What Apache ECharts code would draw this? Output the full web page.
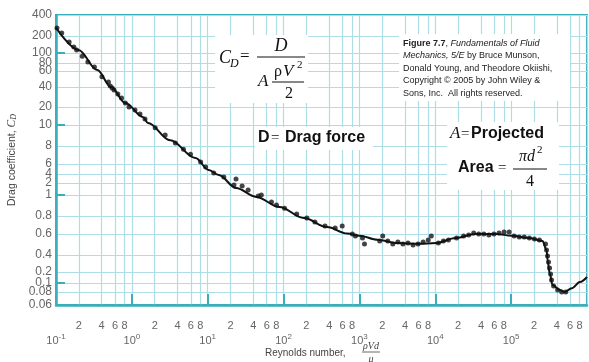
<!DOCTYPE html>
<html>
<head>
<meta charset="utf-8">
<script src="https://cdn.jsdelivr.net/npm/echarts@6/dist/echarts.min.js"></script>
<style>
  html, body { margin: 0; background: #fff; }
  #dragChart { width: 589px; height: 362px; }
</style>
</head>
<body>
<div id="dragChart"></div>
<script>
// drag coefficient of a sphere vs Reynolds number (log-log, stretched Cd axis)

// y axis: the printed labels are not evenly spaced, so each label gets its own spot
const yTickVals = [0.06, 0.08, 0.1, 0.2, 0.4, 0.6, 0.8, 1, 2, 4, 6, 8, 10, 20, 40, 60, 80, 100, 200, 400];
const yTickLabels = ['0.06', '0.08', '0.1', '0.2', '0.4', '0.6', '0.8', '1', '2', '4', '6', '8', '10', '20', '40', '60', '80', '100', '200', '400'];
const yTickAt = [0, 13, 22, 33, 50, 71, 89, 110, 122, 131, 141, 159, 180, 198, 218, 234, 242, 252, 269, 290];
const yMajor = [0.1, 1, 10, 100];

// x axis: decades 10^-1 .. 10^6, labelled 2 4 6 8 in between
const xDecades = [-1, 0, 1, 2, 3, 4, 5, 6];
const xMinor = [2, 4, 6, 8];

// fitted curve
const curveRe = [0.1, 0.198, 0.35, 0.53, 0.82, 1.4, 1.63, 3.2, 6.9, 10.3, 14, 23.6, 43.7, 88, 185, 374, 692, 1000,
  1738, 3210, 5930, 10300, 18500, 34100, 63100, 103000, 174000, 259000, 293000, 302000, 321000, 352000,
  437000, 509000, 631000, 807000, 1000000];
const curveCd = [265, 113, 62, 40, 23, 13.6, 10.8, 8.5, 6.6, 4.7, 3.7, 1.5, 0.98, 0.88, 0.774, 0.67, 0.605, 0.58,
  0.536, 0.504, 0.496, 0.504, 0.555, 0.6, 0.6, 0.58, 0.555, 0.524, 0.44, 0.326, 0.188, 0.095,
  0.084, 0.08, 0.088, 0.106, 0.146];

// measured points
const dotRe = [0.103, 0.119, 0.149, 0.172, 0.187, 0.222, 0.263, 0.321, 0.403, 0.491, 0.52, 0.55, 0.582, 0.653,
  0.731, 0.82, 0.918, 1.1, 1.28, 1.49, 2.03, 2.75, 3.74, 4.79, 5.93, 8.07, 9.4, 12, 16.3, 22.2, 23.6, 28.4,
  34.1, 46.4, 50.9, 69.2, 80.7, 103, 149, 203, 259, 352, 479, 593, 807, 885, 1097, 1166, 1848, 2028, 2362,
  2754, 3213, 3743, 4365, 5093, 5929, 6918, 8072, 8850, 10970, 12790, 14900, 19050, 23600, 27540, 32100,
  37400, 43650, 50900, 59300, 69200, 80700, 94000, 109600, 127900, 149000, 173800, 202800, 236000, 284000,
  293000, 302000, 311000, 321000, 331000, 341000, 363000, 410000, 464000, 525000];
const dotCd = [260, 220, 157, 128, 113, 93, 81.8, 69.3, 52, 45.4, 41, 38.6, 36, 31.4,
  27.3, 23, 20, 17.8, 15.3, 12.6, 9.7, 9.0, 8.26, 7.6, 7.0, 6.2, 5.3, 4.17, 3.17, 1.78, 2.72, 1.68,
  1.33, 0.99, 1.0, 0.928, 0.899, 0.869, 0.817, 0.774, 0.727, 0.682, 0.66, 0.682, 0.6, 0.578, 0.556, 0.495, 0.524, 0.578, 0.524,
  0.495, 0.514, 0.495, 0.505, 0.486, 0.495, 0.514, 0.534, 0.578, 0.505, 0.524, 0.534, 0.556, 0.578, 0.589, 0.61,
  0.6, 0.6, 0.589, 0.6, 0.61, 0.619, 0.619, 0.578, 0.567, 0.567, 0.556, 0.545, 0.534, 0.495,
  0.44, 0.384, 0.301, 0.236, 0.176, 0.121, 0.093, 0.084, 0.08, 0.08];

// Cd -> position on the stretched axis (log interpolation between labels)
function cdToAxis(cd) {
  const n = yTickVals.length;
  for (let i = 0; i < n - 1; i++) {
    const a = yTickVals[i], b = yTickVals[i + 1];
    if (cd <= b || i === n - 2) {
      const f = Math.log(cd / a) / Math.log(b / a);
      return yTickAt[i] + f * (yTickAt[i + 1] - yTickAt[i]);
    }
  }
}

const xLabelVals = [];
xDecades.forEach(d => {
  const p = Math.pow(10, d);
  xLabelVals.push(p);
  if (d < 6) xMinor.forEach(m => xLabelVals.push(m * p));
});
const xMajorVals = xDecades.slice(1, -1).map(d => Math.pow(10, d));

const teal = '#3aaebb';
const gridColor = '#addde6';
const labelColor = '#666';
const sans = '"Liberation Sans", Arial, sans-serif';
const serif = '"Liberation Serif", "Times New Roman", serif';

const myChart = echarts.init(document.getElementById('dragChart'));

const option = {
  animation: false,
  backgroundColor: '#fff',
  grid: {
    left: 56, right: 2, top: 15, bottom: 57,
    outerBoundsMode: 'none',
    show: true, borderColor: teal, borderWidth: 2
  },
  xAxis: [
    {
      type: 'log',
      min: 0.1,
      max: 1000000,
      axisLine: { lineStyle: { color: teal, width: 2.5 } },
      axisTick: { show: false, customValues: xLabelVals },
      splitLine: { show: true, lineStyle: { color: gridColor, width: 1.2 } },
      axisLabel: {
        customValues: xLabelVals,
        margin: 13,
        color: labelColor,
        fontFamily: sans,
        fontSize: 11,
        lineHeight: 15,
        formatter: function (v) {
          const e = Math.floor(Math.log10(v) + 1e-9);
          const m = Math.round(v / Math.pow(10, e));
          return m === 1 ? '\n{n|10}{s|' + e + '}' : String(m);
        },
        rich: {
          n: { fontSize: 11, color: labelColor, fontFamily: sans, lineHeight: 15 },
          s: { fontSize: 8, color: labelColor, fontFamily: sans, verticalAlign: 'top', lineHeight: 10 }
        }
      }
    },
    {
      type: 'log',
      min: 0.1,
      max: 1000000,
      position: 'bottom',
      axisLine: { show: false },
      axisTick: { show: true, inside: true, length: 11, customValues: xMajorVals, lineStyle: { color: teal, width: 2 } },
      axisLabel: { show: false },
      splitLine: { show: false }
    }
  ],
  yAxis: [
    {
      type: 'value',
      min: 0,
      max: 290,
      name: 'Drag coefficient, {i|C}{d|D}',
      nameLocation: 'middle',
      nameGap: 36,
      nameRotate: 90,
      nameTextStyle: {
        color: '#444', fontSize: 10.5, fontFamily: sans,
        rich: {
          i: { fontSize: 11.5, fontStyle: 'italic', fontFamily: serif, color: '#444' },
          d: { fontSize: 8, fontStyle: 'italic', fontFamily: serif, color: '#444', verticalAlign: 'bottom' }
        }
      },
      axisLine: { show: true, lineStyle: { color: teal, width: 2.5 } },
      axisTick: { show: false, customValues: yTickAt },
      splitLine: { show: true, lineStyle: { color: gridColor, width: 1.2 } },
      axisLabel: {
        customValues: yTickAt,
        margin: 4,
        color: labelColor,
        fontFamily: sans,
        fontSize: 12,
        formatter: function (v) {
          const i = yTickAt.indexOf(v);
          return i >= 0 ? yTickLabels[i] : '';
        }
      }
    },
    {
      type: 'value',
      min: 0,
      max: 290,
      position: 'left',
      axisLine: { show: false },
      axisTick: { show: true, inside: true, length: 9, customValues: yMajor.map(cdToAxis), lineStyle: { color: teal, width: 2 } },
      axisLabel: { show: false },
      splitLine: { show: false }
    }
  ],
  series: [
    {
      name: 'measured',
      type: 'scatter',
      symbolSize: 5,
      itemStyle: { color: '#151515' },
      data: dotRe.map((r, i) => [r, cdToAxis(dotCd[i])]),
      z: 3
    },
    {
      name: 'curve',
      type: 'line',
      symbol: 'none',
      smooth: 0.35,
      smoothMonotone: 'x',
      lineStyle: { color: '#111', width: 2 },
      data: curveRe.map((r, i) => [r, cdToAxis(curveCd[i])]),
      z: 4
    }
  ],
  graphic: [
    // formula for Cd
    { type: 'rect', shape: { x: 215, y: 35, width: 93, height: 68 }, style: { fill: '#fff' }, z: 10 },
    { type: 'text', x: 219, y: 58, style: { text: 'C', font: 'italic 18px ' + serif, fill: '#111', verticalAlign: 'middle' }, z: 11 },
    { type: 'text', x: 230, y: 64, style: { text: 'D', font: 'italic 12px ' + serif, fill: '#111', verticalAlign: 'middle' }, z: 11 },
    { type: 'text', x: 240, y: 57, style: { text: '=', font: '17px ' + serif, fill: '#111', verticalAlign: 'middle' }, z: 11 },
    { type: 'line', shape: { x1: 257, y1: 57, x2: 305, y2: 57 }, style: { stroke: '#111', lineWidth: 1 }, z: 11 },
    { type: 'text', x: 281, y: 46, style: { text: 'D', font: 'italic 18px ' + serif, fill: '#111', align: 'center', verticalAlign: 'middle' }, z: 11 },
    { type: 'text', x: 258, y: 82, style: { text: 'A', font: 'italic 17px ' + serif, fill: '#111', verticalAlign: 'middle' }, z: 11 },
    { type: 'text', x: 274, y: 72, style: { text: 'ρ', font: '16px ' + serif, fill: '#111', verticalAlign: 'middle' }, z: 11 },
    { type: 'text', x: 283, y: 72, style: { text: 'V', font: 'italic 17px ' + serif, fill: '#111', verticalAlign: 'middle' }, z: 11 },
    { type: 'text', x: 297, y: 65, style: { text: '2', font: '11px ' + serif, fill: '#111', verticalAlign: 'middle' }, z: 11 },
    { type: 'line', shape: { x1: 272, y1: 82, x2: 304, y2: 82 }, style: { stroke: '#111', lineWidth: 1 }, z: 11 },
    { type: 'text', x: 289, y: 94, style: { text: '2', font: '16px ' + serif, fill: '#111', align: 'center', verticalAlign: 'middle' }, z: 11 },

    // D = Drag force
    { type: 'rect', shape: { x: 255, y: 127, width: 118, height: 23 }, style: { fill: '#fff' }, z: 10 },
    { type: 'text', x: 258, y: 138, style: { text: 'D', font: 'bold 16px ' + sans, fill: '#111', verticalAlign: 'middle' }, z: 11 },
    { type: 'text', x: 271, y: 138, style: { text: '=', font: '15px ' + serif, fill: '#111', verticalAlign: 'middle' }, z: 11 },
    { type: 'text', x: 285, y: 138, style: { text: 'Drag force', font: 'bold 16px ' + sans, fill: '#111', verticalAlign: 'middle' }, z: 11 },

    // source note
    { type: 'rect', shape: { x: 399, y: 34, width: 171, height: 67 }, style: { fill: '#fff' }, z: 10 },
    {
      type: 'text', x: 403, y: 37,
      style: {
        text: '{b|Figure 7.7}, {i|Fundamentals of Fluid}\n{i|Mechanics, 5/E} by Bruce Munson,\nDonald Young, and Theodore Okiishi,\nCopyright © 2005 by John Wiley &\nSons, Inc.  All rights reserved.',
        font: '9px ' + sans, fill: '#222', lineHeight: 12.5,
        rich: {
          b: { fontWeight: 'bold', fontSize: 9, fontFamily: sans, fill: '#222', lineHeight: 12.5 },
          i: { fontStyle: 'italic', fontSize: 9, fontFamily: sans, fill: '#222', lineHeight: 12.5 }
        }
      },
      z: 11
    },

    // projected area
    { type: 'rect', shape: { x: 447, y: 122, width: 112, height: 68 }, style: { fill: '#fff' }, z: 10 },
    { type: 'text', x: 450, y: 134, style: { text: 'A', font: 'italic 17px ' + serif, fill: '#111', verticalAlign: 'middle' }, z: 11 },
    { type: 'text', x: 461, y: 134, style: { text: '=', font: '15px ' + serif, fill: '#111', verticalAlign: 'middle' }, z: 11 },
    { type: 'text', x: 471, y: 134, style: { text: 'Projected', font: 'bold 16px ' + sans, fill: '#111', verticalAlign: 'middle' }, z: 11 },
    { type: 'text', x: 458, y: 168, style: { text: 'Area', font: 'bold 16px ' + sans, fill: '#111', verticalAlign: 'middle' }, z: 11 },
    { type: 'text', x: 498, y: 168, style: { text: '=', font: '15px ' + serif, fill: '#111', verticalAlign: 'middle' }, z: 11 },
    { type: 'text', x: 527, y: 157, style: { text: 'πd', font: 'italic 16px ' + serif, fill: '#111', align: 'center', verticalAlign: 'middle' }, z: 11 },
    { type: 'text', x: 537, y: 150, style: { text: '2', font: '11px ' + serif, fill: '#111', verticalAlign: 'middle' }, z: 11 },
    { type: 'line', shape: { x1: 513, y1: 169, x2: 547, y2: 169 }, style: { stroke: '#111', lineWidth: 1 }, z: 11 },
    { type: 'text', x: 530, y: 182, style: { text: '4', font: '16px ' + serif, fill: '#111', align: 'center', verticalAlign: 'middle' }, z: 11 },

    // x axis title with the ρVd/μ fraction
    { type: 'text', x: 265, y: 353, style: { text: 'Reynolds number,', font: '10px ' + sans, fill: '#444', verticalAlign: 'middle' }, z: 11 },
    { type: 'text', x: 371, y: 346, style: { text: 'ρVd', font: 'italic 10px ' + serif, fill: '#444', align: 'center', verticalAlign: 'middle' }, z: 11 },
    { type: 'line', shape: { x1: 362, y1: 352, x2: 380, y2: 352 }, style: { stroke: '#444', lineWidth: 0.8 }, z: 11 },
    { type: 'text', x: 371, y: 359, style: { text: 'μ', font: 'italic 10px ' + serif, fill: '#444', align: 'center', verticalAlign: 'middle' }, z: 11 }
  ]
};

myChart.setOption(option);
window.addEventListener('resize', myChart.resize);
</script>
</body>
</html>
